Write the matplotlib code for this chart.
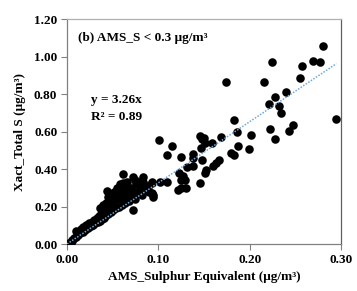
import matplotlib
matplotlib.use("Agg")
import matplotlib.pyplot as plt
import numpy as np

plt.rcParams['font.family'] = ['Liberation Serif', 'DejaVu Serif']

# Data (AMS sulphur equivalent vs Xact total S)
ams_s = [
    0.280, 0.269, 0.277, 0.224, 0.257, 0.255, 0.1745, 0.216, 0.240, 0.228,
    0.221, 0.232, 0.234, 0.295, 0.183, 0.248, 0.243, 0.222, 0.186, 0.202,
    0.228, 0.1457, 0.150, 0.169, 0.148, 0.159, 0.151, 0.147, 0.101, 0.115,
    0.187, 0.199, 0.180, 0.183, 0.138, 0.109, 0.125, 0.138, 0.148, 0.166,
    0.163, 0.160, 0.138, 0.131, 0.152, 0.151, 0.123, 0.127, 0.125, 0.129,
    0.0926, 0.102, 0.109, 0.146, 0.125, 0.122, 0.130, 0.094, 0.0609, 0.0434,
    0.002, 0.004, 0.005, 0.006, 0.008, 0.010, 0.010, 0.012, 0.014, 0.015,
    0.017, 0.018, 0.020, 0.021, 0.023, 0.024, 0.026, 0.027, 0.029, 0.030,
    0.031, 0.033, 0.034, 0.035, 0.036, 0.037, 0.038, 0.040, 0.040, 0.042,
    0.042, 0.043, 0.044, 0.045, 0.046, 0.047, 0.048, 0.049, 0.050, 0.050,
    0.052, 0.053, 0.054, 0.055, 0.056, 0.057, 0.058, 0.059, 0.060, 0.061,
    0.062, 0.063, 0.064, 0.066, 0.067, 0.068, 0.070, 0.071, 0.072, 0.073,
    0.074, 0.076, 0.078, 0.080, 0.082, 0.083, 0.085, 0.088, 0.090, 0.0926,
    0.094, 0.072, 0.074, 0.089, 0.0926, 0.0834,
    0.036, 0.039, 0.045, 0.051, 0.057, 0.065, 0.069, 0.079, 0.084,
]
xact_s = [
    1.056, 0.978, 0.969, 0.969, 0.948, 0.884, 0.862, 0.862, 0.812, 0.782,
    0.747, 0.738, 0.700, 0.667, 0.661, 0.635, 0.604, 0.615, 0.597, 0.581,
    0.560, 0.578, 0.567, 0.569, 0.560, 0.537, 0.537, 0.514, 0.555, 0.524,
    0.521, 0.508, 0.487, 0.475, 0.478, 0.475, 0.462, 0.457, 0.448, 0.448,
    0.430, 0.418, 0.418, 0.412, 0.395, 0.377, 0.380, 0.363, 0.341, 0.341,
    0.332, 0.329, 0.329, 0.324, 0.297, 0.288, 0.297, 0.261, 0.327, 0.283,
    0.005, 0.010, 0.020, 0.015, 0.030, 0.040, 0.070, 0.050, 0.060, 0.080,
    0.065, 0.090, 0.075, 0.100, 0.085, 0.110, 0.095, 0.120, 0.100, 0.130,
    0.110, 0.140, 0.120, 0.150, 0.125, 0.160, 0.135, 0.170, 0.140, 0.150,
    0.200, 0.220, 0.180, 0.160, 0.240, 0.200, 0.170, 0.260, 0.220, 0.180,
    0.280, 0.240, 0.190, 0.300, 0.260, 0.200, 0.320, 0.280, 0.210, 0.373,
    0.300, 0.250, 0.220, 0.330, 0.270, 0.230, 0.300, 0.250, 0.359, 0.280,
    0.240, 0.320, 0.270, 0.300, 0.260, 0.332, 0.290, 0.310, 0.280, 0.324,
    0.252, 0.181, 0.341, 0.306, 0.270, 0.359,
    0.190, 0.210, 0.250, 0.230, 0.240, 0.280, 0.260, 0.330, 0.310,
]
slope = 3.26
fit_x = [0.0, 0.295]

x_ticks = [0.0, 0.1, 0.2, 0.3]
y_ticks = [0.0, 0.2, 0.4, 0.6, 0.8, 1.0, 1.2]

fig = plt.figure(figsize=(3.57, 2.91), dpi=100)
ax = fig.add_axes([0.1877, 0.1615, 0.7673, 0.7732])

ax.scatter(ams_s, xact_s, s=38, color='black', zorder=3, linewidths=0)
fx = np.array(fit_x)
ax.plot(fx, slope * fx, linestyle=(0, (1, 1)), color='#6fa8dc', lw=1.1, zorder=4)

ax.set_xlim(0, 0.3)
ax.set_ylim(0, 1.2)
ax.set_xticks(x_ticks)
ax.set_yticks(y_ticks)
ax.set_xticklabels([f"{v:.2f}" for v in x_ticks])
ax.set_yticklabels([f"{v:.2f}" for v in y_ticks])
ax.tick_params(direction='out', length=4, width=0.8, color='#808080',
               labelsize=9.5, pad=3)
for lab in ax.get_xticklabels() + ax.get_yticklabels():
    lab.set_fontweight('bold')

ax.spines['left'].set_color('#808080')
ax.spines['bottom'].set_color('#808080')
ax.spines['top'].set_color('#b0b0b0')
ax.spines['right'].set_color('#606060')
for sp in ax.spines.values():
    sp.set_linewidth(0.9)

ax.set_xlabel('AMS_Sulphur Equivalent (μg/m³)', fontsize=9.5, fontweight='bold', labelpad=4)
ax.set_ylabel('Xact_Total S (μg/m³)', fontsize=9.5, fontweight='bold', labelpad=6)

ax.text(0.04, 0.915, '(b) AMS_S < 0.3 μg/m³', transform=ax.transAxes,
        fontsize=9.5, fontweight='bold', va='center', ha='left')
ax.text(0.088, 0.64, 'y = 3.26x', transform=ax.transAxes,
        fontsize=9.5, fontweight='bold', va='center', ha='left')
ax.text(0.088, 0.565, 'R² = 0.89', transform=ax.transAxes,
        fontsize=9.5, fontweight='bold', va='center', ha='left')

fig.savefig('out.png', dpi=100)
